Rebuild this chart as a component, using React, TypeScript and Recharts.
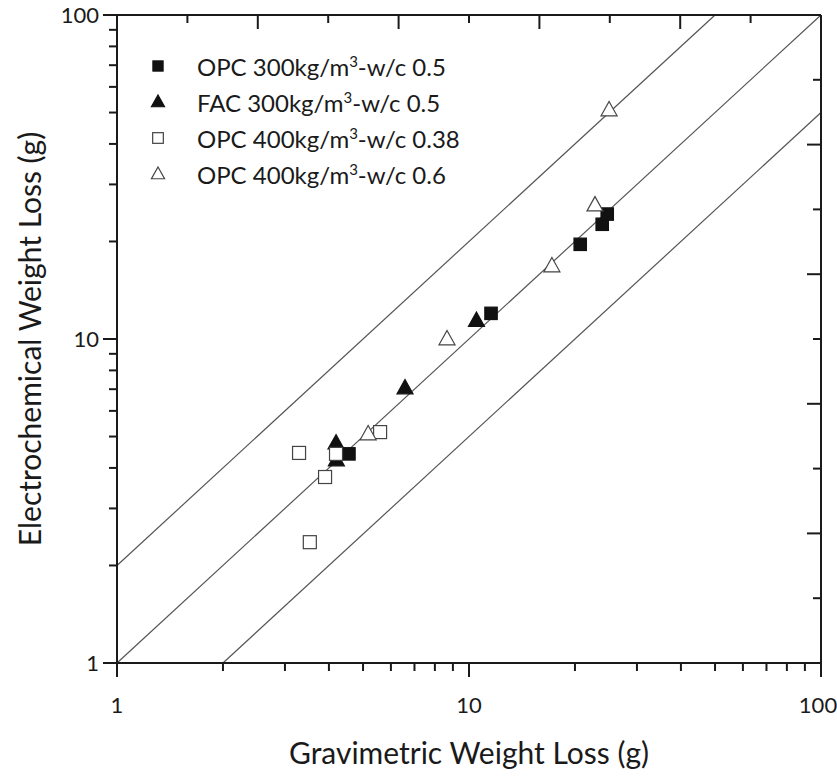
import { ScatterChart, Scatter, XAxis, YAxis, ReferenceLine } from 'recharts';

// Gravimetric (x) vs electrochemical (y) weight loss, grams
const opc300X = [4.56, 11.55, 20.7, 23.9, 24.7];
const opc300Y = [4.42, 12.0, 19.6, 22.6, 24.3];

const fac300X = [4.19, 4.2, 6.58, 10.5];
const fac300Y = [4.77, 4.23, 7.06, 11.4];

const opc400aX = [3.29, 4.19, 3.9, 3.53, 5.59];
const opc400aY = [4.45, 4.42, 3.75, 2.36, 5.16];

const opc400bX = [25.0, 22.8, 17.2, 8.66, 5.17];
const opc400bY = [50.9, 25.9, 16.8, 10.0, 5.09];

const majorTicks = [1, 10, 100];
const minorTicks = [2, 3, 4, 5, 6, 7, 8, 9, 20, 30, 40, 50, 60, 70, 80, 90];
const logTicks = [...majorTicks, ...minorTicks];
const frameTicks = [10, 20, 30, 40, 50, 60, 70, 80, 90];
const frameDomain = [0, 100];
const logDomain = [1, 100];
const ratios = [2, 1, 0.5];

const FONT = 'Lato, "Open Sans", sans-serif';
const INK = '#1a1a1a';

const zip = (xs: number[], ys: number[]) => xs.map((x, i) => ({ x, y: ys[i] }));

const series = [
  { name: 'OPC 300', label: ['OPC 300kg/m', '-w/c 0.5'], data: zip(opc300X, opc300Y), kind: 'square', filled: true },
  { name: 'FAC 300', label: ['FAC 300kg/m', '-w/c 0.5'], data: zip(fac300X, fac300Y), kind: 'triangle', filled: true },
  { name: 'OPC 400 0.38', label: ['OPC 400kg/m', '-w/c 0.38'], data: zip(opc400aX, opc400aY), kind: 'square', filled: false },
  { name: 'OPC 400 0.6', label: ['OPC 400kg/m', '-w/c 0.6'], data: zip(opc400bX, opc400bY), kind: 'triangle', filled: false },
];

const Marker = ({ cx, cy, kind, filled, s = 1 }: any) => {
  const fill = filled ? '#111' : '#fff';
  const stroke = filled ? '#111' : '#444';
  if (kind === 'square') {
    const h = (filled ? 6.2 : 6.5) * s;
    return <rect x={cx - h} y={cy - h} width={h * 2} height={h * 2} fill={fill} stroke={stroke} strokeWidth={1.2} />;
  }
  const w = 8 * s;
  const up = 8.5 * s;
  const dn = 5.8 * s;
  return (
    <path
      d={`M${cx},${cy - up} L${cx + w},${cy + dn} L${cx - w},${cy + dn} Z`}
      fill={fill}
      stroke={stroke}
      strokeWidth={1.2}
      strokeLinejoin="miter"
    />
  );
};

const BottomTick = ({ x, y, payload }: any) => {
  const v = payload.value;
  const major = majorTicks.includes(v);
  return (
    <g>
      <line x1={x} x2={x} y1={y} y2={y + (major ? 14 : 8)} stroke={INK} strokeWidth={2} />
      {major && (
        <text x={v === 100 ? x - 3 : x} y={y + 50} textAnchor="middle" fontSize={22} fontFamily={FONT} fill={INK}>
          {v}
        </text>
      )}
    </g>
  );
};

const LeftTick = ({ x, y, payload }: any) => {
  const major = majorTicks.includes(payload.value);
  return (
    <g>
      <line x1={x} x2={x - (major ? 14 : 8)} y1={y} y2={y} stroke={INK} strokeWidth={2} />
      {major && (
        <text x={x - 18} y={y + 8} textAnchor="end" fontSize={22} fontFamily={FONT} fill={INK}>
          {payload.value}
        </text>
      )}
    </g>
  );
};

// top frame: ticks drawn downward (inside the plot)
const TopTick = (props: any) => {
  const { x, y, payload } = props;
  return (
    <g>
      <line x1={x} x2={x} y1={y} y2={y + (payload.value % 20 === 0 ? 14 : 8)} stroke={INK} strokeWidth={2} />
    </g>
  );
};

const RightTick = (props: any) => {
  const { x, y, payload } = props;
  return (
    <g>
      <line x1={x} x2={x - (payload.value % 20 === 0 ? 14 : 8)} y1={y} y2={y} stroke={INK} strokeWidth={2} />
    </g>
  );
};

const LegendBox = () => (
  <div style={{ position: 'absolute', top: 48, left: 146, fontFamily: FONT, fontSize: 24, color: INK }}>
    {series.map((s) => (
      <div key={s.name} style={{ display: 'flex', alignItems: 'center', height: 36, whiteSpace: 'nowrap' }}>
        <svg width={24} height={20} style={{ marginRight: 27 }}>
          <Marker cx={12} cy={10} kind={s.kind} filled={s.filled} s={0.82} />
        </svg>
        <span>
          {s.label[0]}
          <sup style={{ fontSize: 15 }}>3</sup>
          {s.label[1]}
        </span>
      </div>
    ))}
  </div>
);

const xLabel = ({ viewBox }: any) => (
  <text x={viewBox.x + viewBox.width / 2} y={viewBox.y + 101} textAnchor="middle" fontSize={30} fontFamily={FONT} fill={INK}>
    Gravimetric Weight Loss (g)
  </text>
);

const yLabel = ({ viewBox }: any) => {
  const cx = viewBox.x - 28;
  const cy = viewBox.y + viewBox.height / 2;
  return (
    <text
      x={cx}
      y={cy}
      transform={`rotate(-90 ${cx} ${cy})`}
      textAnchor="middle"
      dominantBaseline="central"
      fontSize={30}
      fontFamily={FONT}
      fill={INK}
    >
      Electrochemical Weight Loss (g)
    </text>
  );
};

const frameLine = { stroke: INK, strokeWidth: 2 };

export default function App() {
  return (
    <div style={{ position: 'absolute', left: 0, top: 0, width: 837, height: 778, background: '#fff' }}>
      <ScatterChart width={837} height={778} margin={{ top: 5, right: 15, bottom: 55, left: 57 }}>
        <XAxis
          xAxisId="top"
          orientation="top"
          type="number"
          dataKey="x"
          domain={frameDomain}
          allowDataOverflow
          ticks={frameTicks}
          interval={0}
          height={10}
          tickSize={0}
          tickMargin={0}
          tickLine={false}
          tick={<TopTick />}
          axisLine={frameLine}
        />
        <YAxis
          yAxisId="right"
          orientation="right"
          type="number"
          dataKey="y"
          domain={frameDomain}
          allowDataOverflow
          ticks={frameTicks}
          interval={0}
          width={1}
          tickSize={0}
          tickMargin={0}
          tickLine={false}
          tick={<RightTick />}
          axisLine={frameLine}
        />
        <XAxis
          dataKey="x"
          type="number"
          scale="log"
          domain={logDomain}
          allowDataOverflow
          ticks={logTicks}
          interval={0}
          height={60}
          tickSize={0}
          tickMargin={0}
          tickLine={false}
          tick={<BottomTick />}
          axisLine={frameLine}
          label={{ content: xLabel }}
        />
        <YAxis
          dataKey="y"
          type="number"
          scale="log"
          domain={logDomain}
          allowDataOverflow
          ticks={logTicks}
          interval={0}
          width={60}
          tickSize={0}
          tickMargin={0}
          tickLine={false}
          tick={<LeftTick />}
          axisLine={frameLine}
          label={{ content: yLabel }}
        />
        {ratios.map((r) => (
          <ReferenceLine
            key={r}
            segment={[
              { x: Math.max(1, 1 / r), y: Math.max(1, 1 / r) * r },
              { x: Math.min(100, 100 / r), y: Math.min(100, 100 / r) * r },
            ]}
            stroke="#555"
            strokeWidth={1.2}
          />
        ))}
        {series.map((s) => (
          <Scatter
            key={s.name}
            name={s.name}
            data={s.data}
            isAnimationActive={false}
            shape={(p: any) => <Marker cx={p.cx} cy={p.cy} kind={s.kind} filled={s.filled} />}
          />
        ))}
      </ScatterChart>
      <LegendBox />
    </div>
  );
}
